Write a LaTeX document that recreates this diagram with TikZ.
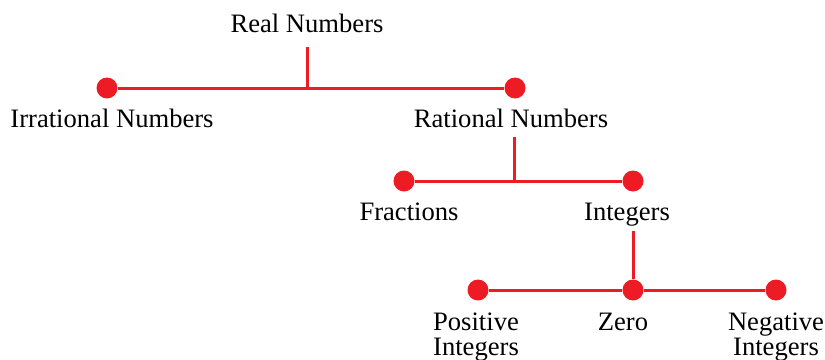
\documentclass[tikz,border=0pt]{standalone}
\usepackage{fontspec}
\setmainfont{Liberation Serif}
\usetikzlibrary{positioning}
\definecolor{treered}{HTML}{ED1C24}
\tikzset{
  dot/.style={
    shape = circle,
    inner sep = 0pt,
    minimum size = 10.5pt,
    fill = treered
  },
  branch/.style={
    draw = treered,
    line width = 1.5pt
  },
  numlabel/.style={
    anchor = base,
    inner sep = 0pt,
    align = center,
    font = \fontsize{13.3}{12.5}\selectfont
  },
}

\begin{document}
\begin{tikzpicture}[x=0.5pt,y=-0.5pt]
  \useasboundingbox (0,0) rectangle (825,359);
  % labels
  \node[numlabel] (real) at (307,32) {Real Numbers};
  \node[numlabel] (irr) at (112,127) {Irrational Numbers};
  \node[numlabel] (rat) at (511,127) {Rational Numbers};
  \node[numlabel] (frac) at (409,220) {Fractions};
  \node[numlabel] (int) at (627,220) {Integers};
  \node[numlabel] (pos) at (476,355) {Positive\\Integers};
  \node[numlabel] (zero) at (623,330) {Zero};
  \node[numlabel] (neg) at (776,355) {Negative\\Integers};
  % junctions
  \coordinate (realj) at (307,88);
  \coordinate (ratj) at (514,181);
  % dots
  \node[dot] (irrdot) at (107,88) {};
  \node[dot] (ratdot) at (515,88) {};
  \node[dot] (fracdot) at (404,181) {};
  \node[dot] (intdot) at (633,181) {};
  \node[dot] (posdot) at (478,290) {};
  \node[dot] (zerodot) at (633,290) {};
  \node[dot] (negdot) at (776,290) {};
  % branches
  \draw[branch] ([yshift=-7.5pt]real.base) -- (realj);
  \draw[branch] (irrdot) -- (realj) -- (ratdot);
  \draw[branch] ([xshift=1.5pt,yshift=-5pt]rat.base) -- (ratj);
  \draw[branch] (fracdot) -- (ratj) -- (intdot);
  \draw[branch] ([xshift=3pt,yshift=-5.5pt]int.base) -- (zerodot);
  \draw[branch] (posdot) -- (zerodot) -- (negdot);
\end{tikzpicture}
\end{document}
